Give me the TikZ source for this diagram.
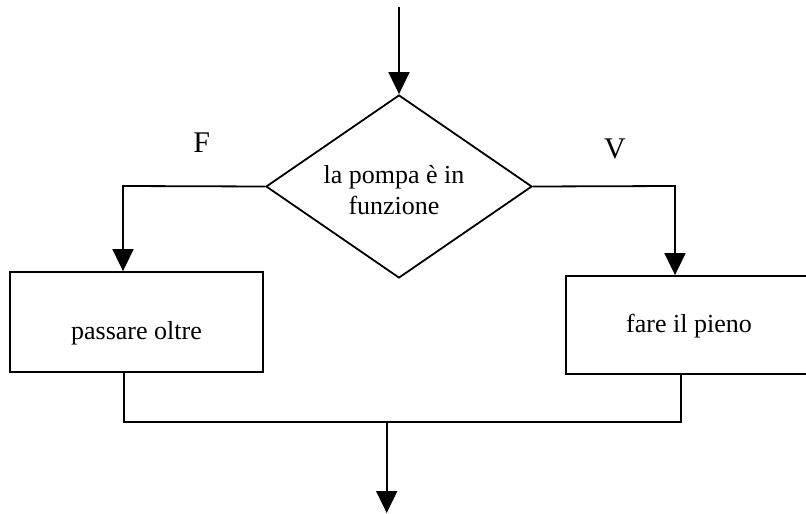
\documentclass[tikz,border=0pt]{standalone}
\usepackage{fontspec}
\setmainfont{Liberation Serif}
\usetikzlibrary{shapes.geometric,arrows.meta}
\begin{document}
\begin{tikzpicture}[x=1pt,y=-1pt,
  line/.style={line width=1.8pt},
  arr/.style={line, -{Triangle[width=21pt,length=22pt]}},
  box/.style={draw, line width=1.8pt, rectangle, inner sep=0pt, font=\fontsize{26}{31}\selectfont},
  lbl/.style={inner sep=0pt, font=\fontsize{26}{31}\selectfont},
  tf/.style={inner sep=0pt, anchor=base, font=\fontsize{30}{36}\selectfont}]
\useasboundingbox (0,0) rectangle (806,514);
\node[draw, line width=1.8pt, diamond, minimum width=266pt, minimum height=183pt, inner sep=0pt] (dia) at (399,186.5) {};
\node[lbl, align=center] (dtext) at (394,190.5) {la pompa è in\\funzione};
\node[box, minimum width=253pt, minimum height=100pt, text height=34pt, text depth=0pt] (lbox) at (136.5,322) {passare oltre};
\node[box, minimum width=246pt, minimum height=98pt, text height=15.4pt, text depth=0pt] (rbox) at (689,325) {fare il pieno};
\node[tf] (F) at (201.7,152.7) {F};
\node[tf] (V) at (615,158) {V};
\coordinate (start) at (399,7);
\coordinate (lc) at (123,186);
\coordinate (rc) at (675,186);
\coordinate (jl) at (124,422);
\coordinate (jr) at (680.7,422);
\coordinate (jm) at (386.7,422);
\coordinate (end) at (386.7,513);
\draw[arr] (start) -- (dia.north);
\draw[arr] (dia.west) -- (lc) -- (lc |- lbox.north);
\draw[arr] (dia.east) -- (rc) -- (rc |- rbox.north);
\draw[line] (jl |- lbox.south) -- (jl) -- (jr) -- (jr |- lbox.south);
\draw[arr] (jm) -- (end);
\end{tikzpicture}
\end{document}
